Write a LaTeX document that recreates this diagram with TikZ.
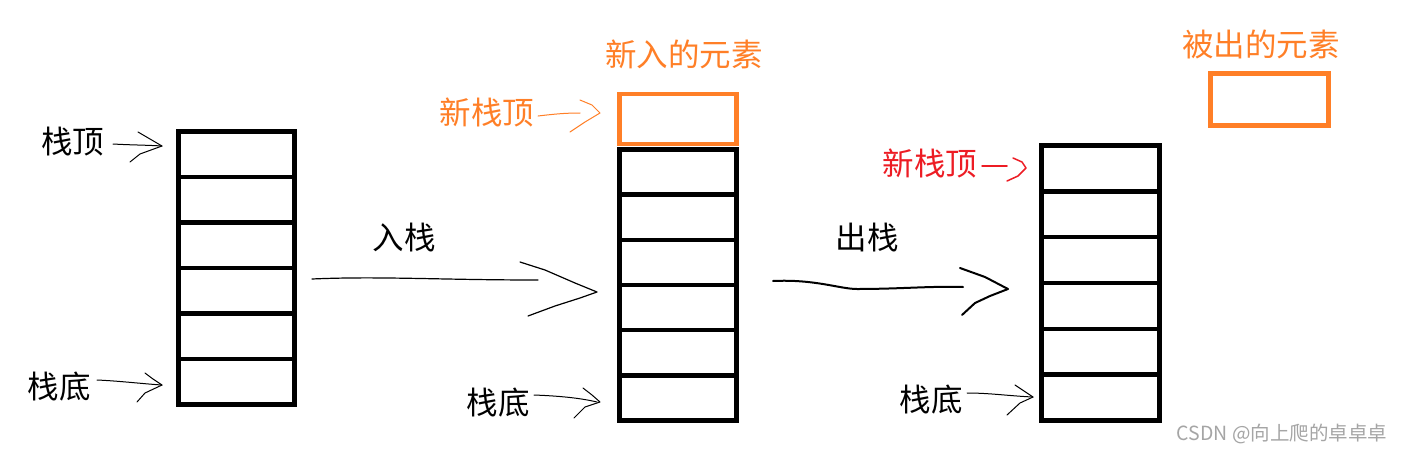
\documentclass[tikz,border=0pt]{standalone}
\usepackage{fontspec}
\newfontfamily\cjk{Noto Sans CJK SC}
\usetikzlibrary{calc}
\definecolor{paintorange}{RGB}{255,127,39}
\definecolor{paintred}{RGB}{237,28,36}
\definecolor{wmgray}{RGB}{165,165,165}
\begin{document}
\begin{tikzpicture}[x=1pt,y=-1pt,
  cellbox/.style={draw,line width=4.5pt,inner sep=0pt},
  lbl/.style={font=\cjk\fontsize{31.5}{36}\selectfont,inner sep=0pt},
  hand/.style={line width=1pt,line join=round,line cap=round},
  handthick/.style={line width=2pt,line join=round,line cap=round}]
\useasboundingbox (0,0) rectangle (1403,453);
\fill[white] (0,0) rectangle (1403,453);

% stack 1
\foreach \i in {1,...,6}
  \node[cellbox,minimum width=116pt,minimum height=45.5pt] (a\i) at (236.5,{131.5+45.5*(\i-0.5)}) {};
% stack 2
\foreach \i in {1,...,6}
  \node[cellbox,minimum width=117pt,minimum height=45.17pt] (b\i) at (678,{149.5+45.17*(\i-0.5)}) {};
\node[cellbox,draw=paintorange,minimum width=117pt,minimum height=50pt] (b0) at (678,119) {};
% stack 3
\foreach \i in {1,...,6}
  \node[cellbox,minimum width=118pt,minimum height=45.83pt] (c\i) at (1100.5,{145.5+45.83*(\i-0.5)}) {};
% popped element
\node[cellbox,draw=paintorange,minimum width=118pt,minimum height=52pt] (d) at (1269.5,99.5) {};

% labels
\node[lbl] (t1) at (73,142) {栈顶};
\node[lbl] (u1) at (59,387) {栈底};
\node[lbl] (push) at (404,238) {入栈};
\node[lbl,text=paintorange] (newel) at (684,54) {新入的元素};
\node[lbl,text=paintorange] (t2) at (487,112) {新栈顶};
\node[lbl] (u2) at (498,403) {栈底};
\node[lbl] (pop) at (867,238) {出栈};
\node[lbl,text=paintred] (t3) at (930,163) {新栈顶};
\node[lbl] (u3) at (931,400) {栈底};
\node[lbl,text=paintorange] (popel) at (1261,44) {被出的元素};
\node[font=\cjk\fontsize{19.5}{23}\selectfont,text=wmgray,inner sep=0pt] (wm) at (1282,434) {CSDN @向上爬的卓卓卓};

% tips of the small arrows
\coordinate (tipA) at (162,146);
\coordinate (tipB) at (162,385);
\coordinate (tipC) at (600,113);
\coordinate (tipD) at (600,402);
\coordinate (tipE) at (1026,168);
\coordinate (tipF) at (1033,397);

% small arrows
\draw[hand] (113,144) .. controls (130,145) and (145,145) .. (tipA);
\draw[hand] (138,132) -- (150,139) -- (tipA) -- (140,154) -- (130,162);
\draw[hand] (97,380) .. controls (120,381) and (145,384) .. (tipB);
\draw[hand] (145,373) -- (153,379) -- (tipB) -- (145,393) -- (137,402);
\draw[hand,paintorange] (538,116) .. controls (555,114) and (565,113) .. (580,113);
\draw[hand,paintorange] (580,100) -- (592,105) -- (tipC) -- (585,122) -- (570,132);
\draw[hand] (534,395) .. controls (560,396) and (580,398) .. (597,402);
\draw[hand] (583,388) -- (592,395) -- (tipD) -- (585,407) -- (574,418);
\draw[hand,line width=1.5pt,paintred] (982,166) -- (1007,166);
\draw[hand,line width=1.5pt,paintred] (1013,158) -- (1022,162) -- (tipE) -- (1018,176) -- (1007,181);
\draw[hand] (967,393) .. controls (990,393) and (1010,396) .. (tipF);
\draw[hand] (1015,385) -- (1024,391) -- (tipF) -- (1020,403) -- (1007,415);

% big arrows
\coordinate (tipP) at (597,292);
\coordinate (tipQ) at (1008,289);
\draw[hand,line width=1.2pt] (312,279) .. controls (380,276) and (440,280) .. (538,280);
\draw[hand,line width=1.2pt] (520,262) -- (545,270) -- (575,283) -- (tipP) -- (580,298) -- (555,306) -- (528,316);
\draw[handthick] (773,281) .. controls (815,279) and (840,289) .. (857,289) .. controls (900,289) and (930,286) .. (963,287);
\draw[handthick] (960,268) -- (985,277) -- (tipQ) -- (990,296) -- (975,303) -- (962,315);
\end{tikzpicture}
\end{document}
